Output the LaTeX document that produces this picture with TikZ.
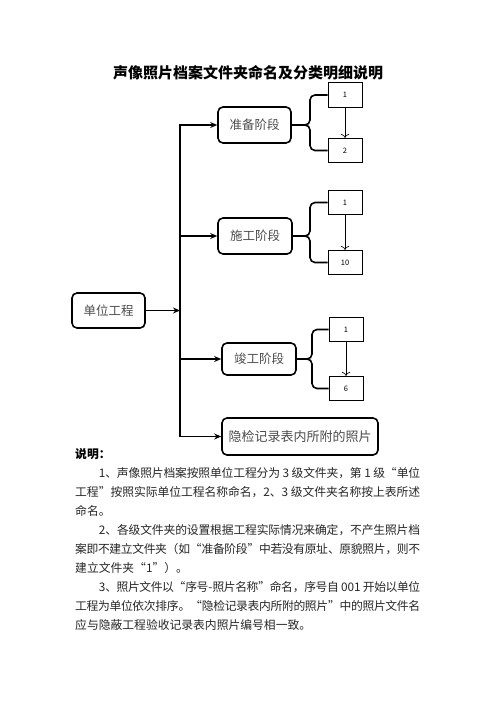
\documentclass[tikz,border=0pt]{standalone}
\usepackage{fontspec}
\usepackage{tikz}
\usetikzlibrary{arrows.meta}
\setmainfont{Noto Sans CJK SC}
\XeTeXlinebreaklocale "zh"
\XeTeXlinebreakskip=0pt plus 2pt minus 1pt

\begin{document}
\begin{tikzpicture}[x=1pt, y=-1pt,
	stage/.style={draw, line width=1.6pt, rounded corners=5pt, text=black!70, font=\fontsize{12.5}{14}\selectfont, inner sep=0pt},
	leaf/.style={draw, line width=0.7pt, minimum width=34pt, minimum height=24.5pt, inner sep=0pt, font=\fontsize{7.5}{9}\selectfont},
	link/.style={line width=1.5pt, -{Stealth[length=7pt,width=6pt]}},
	brace/.style={line width=1.6pt, rounded corners=5pt},
	down/.style={line width=0.6pt, -{To[length=4pt]}}]
	\useasboundingbox (0,0) rectangle (496,702);
	\node[font=\fontsize{15}{18}\selectfont\bfseries] (title) at (248,73) {声像照片档案文件夹命名及分类明细说明};
	% stages
	\node[stage, minimum width=73pt, minimum height=35pt] (unit) at (108.5,310.5) {单位工程};
	\node[stage, minimum width=73pt, minimum height=36pt] (prep) at (254.5,125) {准备阶段};
	\node[stage, minimum width=74pt, minimum height=36pt] (build) at (255,236) {施工阶段};
	\node[stage, minimum width=74pt, minimum height=32pt] (done) at (259,359) {竣工阶段};
	\node[stage, minimum width=156pt, minimum height=37pt, font=\fontsize{13}{15}\selectfont] (hidden) at (300,436.5) {隐检记录表内所附的照片};
	% sub folders
	\node[leaf] (prep1) at (345,95) {1};
	\node[leaf] (prep2) at (345,150.5) {2};
	\node[leaf] (build1) at (345,202.5) {1};
	\node[leaf] (build2) at (345,262.5) {10};
	\node[leaf] (done1) at (346,329.5) {1};
	\node[leaf] (done2) at (346,388.5) {6};
	% trunk
	\coordinate (bus) at (180,300);
	\draw[link, {Stealth[length=7pt,width=6pt]}-{Stealth[length=7pt,width=6pt]}] (prep.west) -| (bus) |- (hidden.west);
	\draw[link] (bus |- build.west) -- (build.west);
	\draw[link] (bus |- done.west) -- (done.west);
	\draw[link] (unit.east) -- (bus |- unit.east);
	% braces
	\coordinate (kp) at (310,125);
	\coordinate (kb) at (310,236);
	\coordinate (kd) at (312,359);
	\draw[brace] (prep.east) -- (kp) -- (kp |- prep1.west) -- (prep1.west);
	\draw[brace] (prep.east) -- (kp) -- (kp |- prep2.west) -- (prep2.west);
	\draw[brace] (build.east) -- (kb) -- (kb |- build1.west) -- (build1.west);
	\draw[brace] (build.east) -- (kb) -- (kb |- build2.west) -- (build2.west);
	\draw[brace] (done.east) -- (kd) -- (kd |- done1.west) -- (done1.west);
	\draw[brace] (done.east) -- (kd) -- (kd |- done2.west) -- (done2.west);
	\draw[down] (prep1) -- (prep2);
	\draw[down] (build1) -- (build2);
	\draw[down] (done1) -- (done2);
	% notes
	\node[anchor=north west, text width=345pt, align=justify, inner sep=0pt, text=black!85, font=\fontsize{11.8}{19}\selectfont] (notes) at (75,448) {%
		\tolerance=9999
		{\bfseries\color{black}说明：}\par
		\hspace*{2em}1、声像照片档案按照单位工程分为 3 级文件夹，第 1 级“单位\linebreak
		工程”按照实际单位工程名称命名，2、3 级文件夹名称按上表所述\linebreak
		命名。\par
		\hspace*{2em}2、各级文件夹的设置根据工程实际情况来确定，不产生照片档\linebreak
		案即不建立文件夹（如“准备阶段”中若没有原址、原貌照片，则不\linebreak
		建立文件夹“1”）。\par
		\hspace*{2em}3、照片文件以“序号-照片名称”命名，序号自 001 开始以单位\linebreak
		工程为单位依次排序。“隐检记录表内所附的照片”中的照片文件名\linebreak
		应与隐蔽工程验收记录表内照片编号相一致。};
\end{tikzpicture}
\end{document}
